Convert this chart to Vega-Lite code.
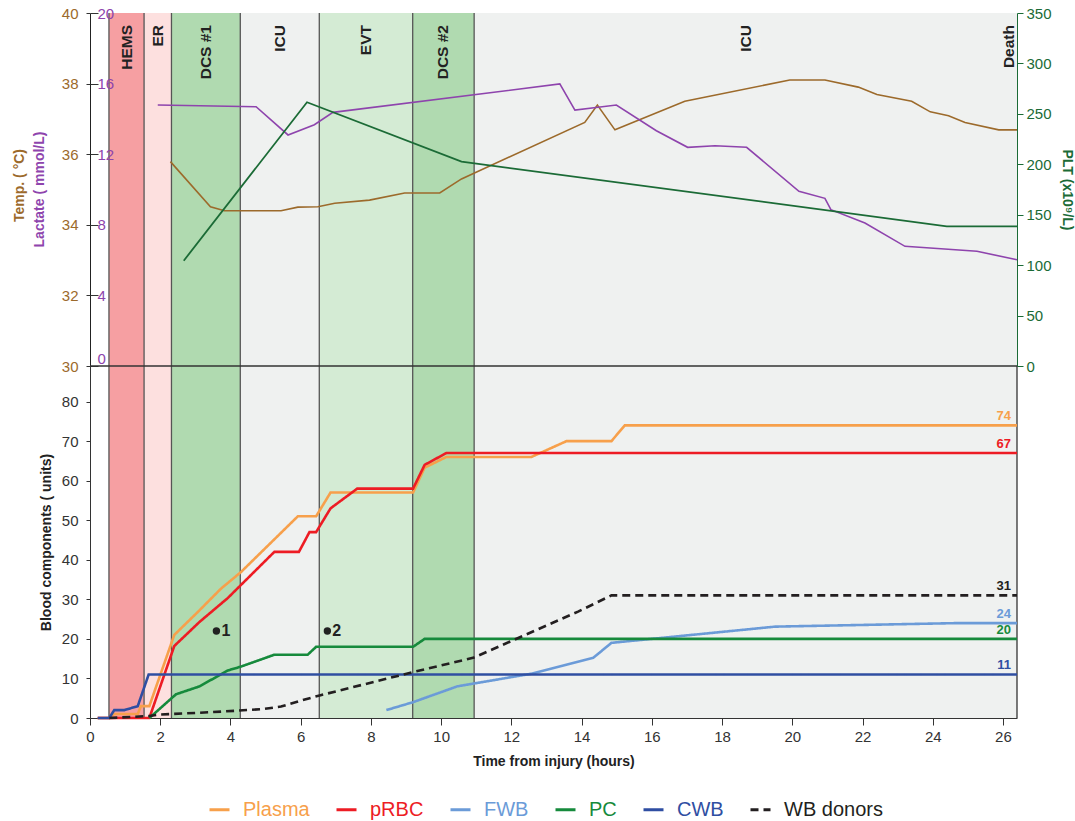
{
  "$schema": "https://vega.github.io/schema/vega-lite/v6.json",
  "padding": {"left": 12, "top": 6, "right": 5, "bottom": 0},
  "config": {
    "font": "Liberation Sans",
    "view": {"stroke": null},
    "axis": {"zindex": 1, "grid": false, "labelFontSize": 15, "labelColor": "#333", "tickColor": "#333", "domainColor": "#333", "titleFontSize": 14, "titleFontWeight": "bold", "titleColor": "#222"}
  },
  "datasets": {
    "bands": [
      {"start": 0.54, "end": 1.54, "mid": 1.04, "kind": "HEMS", "label": "HEMS"},
      {"start": 1.54, "end": 2.32, "mid": 1.93, "kind": "ER", "label": "ER"},
      {"start": 2.32, "end": 4.28, "mid": 3.30, "kind": "DCS", "label": "DCS #1"},
      {"start": 4.28, "end": 6.53, "mid": 5.40, "kind": "ICU", "label": "ICU"},
      {"start": 6.53, "end": 9.19, "mid": 7.86, "kind": "EVT", "label": "EVT"},
      {"start": 9.19, "end": 10.94, "mid": 10.06, "kind": "DCS", "label": "DCS #2"},
      {"start": 10.94, "end": 26.4, "mid": 18.67, "kind": "ICU", "label": "ICU"}
    ],
    "events": [{"t": 26.17, "label": "Death"}],
    "temp": [
      {"t": 2.29, "temp": 35.79}, {"t": 3.43, "temp": 34.51}, {"t": 3.83, "temp": 34.40}, {"t": 5.44, "temp": 34.40},
      {"t": 5.92, "temp": 34.50}, {"t": 6.49, "temp": 34.51}, {"t": 6.97, "temp": 34.61}, {"t": 7.96, "temp": 34.70},
      {"t": 8.96, "temp": 34.90}, {"t": 9.96, "temp": 34.90}, {"t": 10.58, "temp": 35.30}, {"t": 14.09, "temp": 36.90},
      {"t": 14.45, "temp": 37.39}, {"t": 14.95, "temp": 36.69}, {"t": 16.94, "temp": 37.50}, {"t": 19.93, "temp": 38.10},
      {"t": 20.93, "temp": 38.10}, {"t": 21.88, "temp": 37.90}, {"t": 22.41, "temp": 37.69}, {"t": 23.40, "temp": 37.50},
      {"t": 23.93, "temp": 37.20}, {"t": 24.45, "temp": 37.09}, {"t": 24.92, "temp": 36.90}, {"t": 25.88, "temp": 36.69},
      {"t": 26.40, "temp": 36.69}
    ],
    "lactate": [
      {"t": 1.93, "lactate": 14.79}, {"t": 4.73, "lactate": 14.69}, {"t": 5.64, "lactate": 13.09}, {"t": 6.39, "lactate": 13.67},
      {"t": 6.92, "lactate": 14.37}, {"t": 13.38, "lactate": 15.98}, {"t": 13.81, "lactate": 14.50}, {"t": 14.47, "lactate": 14.66},
      {"t": 14.99, "lactate": 14.79}, {"t": 16.13, "lactate": 13.33}, {"t": 17.02, "lactate": 12.39}, {"t": 17.80, "lactate": 12.48},
      {"t": 18.70, "lactate": 12.39}, {"t": 20.19, "lactate": 9.90}, {"t": 20.93, "lactate": 9.50}, {"t": 21.10, "lactate": 8.86},
      {"t": 22.07, "lactate": 8.10}, {"t": 23.21, "lactate": 6.78}, {"t": 25.26, "lactate": 6.50}, {"t": 26.40, "lactate": 6.02}
    ],
    "plt": [
      {"t": 2.67, "plt": 104.4}, {"t": 6.18, "plt": 261.5}, {"t": 10.58, "plt": 202.6}, {"t": 24.40, "plt": 138.5}, {"t": 26.40, "plt": 138.5}
    ],
    "blood": [
      {"series": "Plasma", "t": 0.22, "v": 0}, {"series": "Plasma", "t": 0.55, "v": 0}, {"series": "Plasma", "t": 0.69, "v": 1},
      {"series": "Plasma", "t": 1.36, "v": 1}, {"series": "Plasma", "t": 1.45, "v": 3}, {"series": "Plasma", "t": 1.69, "v": 3},
      {"series": "Plasma", "t": 2.40, "v": 21}, {"series": "Plasma", "t": 3.07, "v": 26.8}, {"series": "Plasma", "t": 3.73, "v": 32.7},
      {"series": "Plasma", "t": 4.30, "v": 36.9}, {"series": "Plasma", "t": 5.92, "v": 51}, {"series": "Plasma", "t": 6.44, "v": 51},
      {"series": "Plasma", "t": 6.85, "v": 57}, {"series": "Plasma", "t": 9.20, "v": 57}, {"series": "Plasma", "t": 9.53, "v": 63.3},
      {"series": "Plasma", "t": 10.15, "v": 66}, {"series": "Plasma", "t": 12.57, "v": 66}, {"series": "Plasma", "t": 13.57, "v": 70},
      {"series": "Plasma", "t": 14.85, "v": 70}, {"series": "Plasma", "t": 15.23, "v": 74}, {"series": "Plasma", "t": 26.4, "v": 74},

      {"series": "pRBC", "t": 0.22, "v": 0}, {"series": "pRBC", "t": 1.69, "v": 0}, {"series": "pRBC", "t": 2.40, "v": 18.2},
      {"series": "pRBC", "t": 3.12, "v": 24.3}, {"series": "pRBC", "t": 3.92, "v": 30.3}, {"series": "pRBC", "t": 5.25, "v": 42},
      {"series": "pRBC", "t": 5.95, "v": 42}, {"series": "pRBC", "t": 6.25, "v": 47}, {"series": "pRBC", "t": 6.44, "v": 47},
      {"series": "pRBC", "t": 6.85, "v": 53}, {"series": "pRBC", "t": 7.61, "v": 58}, {"series": "pRBC", "t": 9.20, "v": 58},
      {"series": "pRBC", "t": 9.53, "v": 64}, {"series": "pRBC", "t": 10.15, "v": 67}, {"series": "pRBC", "t": 26.4, "v": 67},

      {"series": "FWB", "t": 8.44, "v": 2}, {"series": "FWB", "t": 9.20, "v": 4}, {"series": "FWB", "t": 10.46, "v": 8},
      {"series": "FWB", "t": 12.57, "v": 11.2}, {"series": "FWB", "t": 14.33, "v": 15.2}, {"series": "FWB", "t": 14.85, "v": 19},
      {"series": "FWB", "t": 15.99, "v": 20}, {"series": "FWB", "t": 19.51, "v": 23.1}, {"series": "FWB", "t": 24.73, "v": 24},
      {"series": "FWB", "t": 26.4, "v": 24},

      {"series": "PC", "t": 1.69, "v": 0}, {"series": "PC", "t": 2.45, "v": 6}, {"series": "PC", "t": 3.12, "v": 8},
      {"series": "PC", "t": 3.92, "v": 12}, {"series": "PC", "t": 4.30, "v": 13}, {"series": "PC", "t": 5.25, "v": 16},
      {"series": "PC", "t": 6.20, "v": 16}, {"series": "PC", "t": 6.44, "v": 18}, {"series": "PC", "t": 9.20, "v": 18},
      {"series": "PC", "t": 9.53, "v": 20}, {"series": "PC", "t": 26.4, "v": 20},

      {"series": "CWB", "t": 0.22, "v": 0}, {"series": "CWB", "t": 0.55, "v": 0}, {"series": "CWB", "t": 0.69, "v": 2},
      {"series": "CWB", "t": 0.98, "v": 2}, {"series": "CWB", "t": 1.36, "v": 3}, {"series": "CWB", "t": 1.67, "v": 11},
      {"series": "CWB", "t": 26.4, "v": 11},

      {"series": "WB donors", "t": 0.55, "v": 0}, {"series": "WB donors", "t": 1.69, "v": 0.5}, {"series": "WB donors", "t": 2.02, "v": 0.9},
      {"series": "WB donors", "t": 3.07, "v": 1.3}, {"series": "WB donors", "t": 4.11, "v": 1.8}, {"series": "WB donors", "t": 4.97, "v": 2.3},
      {"series": "WB donors", "t": 5.44, "v": 2.9}, {"series": "WB donors", "t": 6.0, "v": 4.4}, {"series": "WB donors", "t": 6.54, "v": 5.7},
      {"series": "WB donors", "t": 9.20, "v": 11.6}, {"series": "WB donors", "t": 10.91, "v": 15.2}, {"series": "WB donors", "t": 13.9, "v": 26.9},
      {"series": "WB donors", "t": 14.85, "v": 31}, {"series": "WB donors", "t": 26.4, "v": 31}
    ],
    "ends": [
      {"series": "Plasma", "t": 26.4, "v": 74, "label": "74"},
      {"series": "pRBC", "t": 26.4, "v": 67, "label": "67"},
      {"series": "WB donors", "t": 26.4, "v": 31, "label": "31"},
      {"series": "FWB", "t": 26.4, "v": 24, "label": "24"},
      {"series": "PC", "t": 26.4, "v": 20, "label": "20"},
      {"series": "CWB", "t": 26.4, "v": 11, "label": "11"}
    ],
    "notes": [
      {"t": 3.6, "v": 22, "label": "1"},
      {"t": 6.76, "v": 22, "label": "2"}
    ]
  },
  "spacing": 0,
  "bounds": "flush",
  "vconcat": [
    {
      "width": 927,
      "height": 353,
      "layer": [
        {
          "layer": [
            {
              "data": {"name": "bands"},
              "mark": {"type": "rect"},
              "encoding": {
                "x": {"field": "start", "type": "quantitative", "scale": {"domain": [0, 26.4], "nice": false, "zero": false}, "axis": null},
                "x2": {"field": "end"},
                "fill": {"field": "kind", "type": "nominal", "scale": {"domain": ["HEMS", "ER", "DCS", "ICU", "EVT"], "range": ["#f69fa2", "#fde0df", "#b0dab0", "#eff1f0", "#d4ebd4"]}, "legend": null}
              }
            },
            {
              "data": {"name": "bands"},
              "mark": {"type": "rule", "color": "#555", "strokeWidth": 1.3},
              "encoding": {"x": {"field": "start", "type": "quantitative"}}
            },
            {
              "data": {"name": "bands"},
              "mark": {"type": "text", "angle": 270, "align": "right", "baseline": "middle", "fontWeight": "bold", "fontSize": 15.5, "color": "#222"},
              "encoding": {
                "x": {"field": "mid", "type": "quantitative"},
                "y": {"datum": 39.66, "type": "quantitative"},
                "text": {"field": "label"}
              }
            },
            {
              "data": {"name": "events"},
              "mark": {"type": "text", "angle": 270, "align": "right", "baseline": "middle", "fontWeight": "bold", "fontSize": 15.5, "color": "#222"},
              "encoding": {
                "x": {"field": "t", "type": "quantitative"},
                "y": {"datum": 39.66, "type": "quantitative"},
                "text": {"field": "label"}
              }
            },
            {
              "data": {"name": "temp"},
              "mark": {"type": "line", "color": "#9c6a2b", "strokeWidth": 1.6},
              "encoding": {
                "x": {"field": "t", "type": "quantitative"},
                "y": {"field": "temp", "type": "quantitative", "scale": {"domain": [30, 40], "nice": false, "zero": false},
                  "axis": {"orient": "left", "values": [30, 32, 34, 36, 38, 40], "tickSize": 4, "labelPadding": 8, "labelColor": "#9c6a2b", "domainColor": "#222", "title": "Temp. ( °C)", "titleColor": "#9c6a2b", "titleX": -64, "titleY": 172}}
              }
            }
          ]
        },
        {
          "data": {"name": "lactate"},
          "mark": {"type": "line", "color": "#8e44ad", "strokeWidth": 1.6},
          "encoding": {
            "x": {"field": "t", "type": "quantitative"},
            "y": {"field": "lactate", "type": "quantitative", "scale": {"domain": [0, 20], "nice": false},
              "axis": {"orient": "left", "zindex": 2, "values": [0, 4, 8, 12, 16, 20], "domain": false, "tickSize": -8, "labelPadding": 1, "labelAlign": "left", "labelBaseline": {"condition": {"test": "datum.value === 0", "value": "bottom"}, "value": "middle"}, "labelColor": "#8e44ad", "title": "Lactate ( mmol/L)", "titleColor": "#8e44ad", "titleX": -44, "titleY": 176}}
          }
        },
        {
          "data": {"name": "plt"},
          "mark": {"type": "line", "color": "#1b6b36", "strokeWidth": 1.8},
          "encoding": {
            "x": {"field": "t", "type": "quantitative"},
            "y": {"field": "plt", "type": "quantitative", "scale": {"domain": [0, 350], "nice": false},
              "axis": {"orient": "right", "values": [0, 50, 100, 150, 200, 250, 300, 350], "tickSize": 6, "labelPadding": 3, "labelColor": "#1b6b36", "tickColor": "#1b6b36", "domainColor": "#1b6b36", "title": "PLT (x10⁹/L)", "titleColor": "#1b6b36", "titlePadding": 8}}
          }
        }
      ],
      "resolve": {"scale": {"y": "independent"}}
    },
    {
      "width": 927,
      "height": 352,
      "layer": [
        {
          "data": {"name": "bands"},
          "mark": {"type": "rect"},
          "encoding": {
            "x": {"field": "start", "type": "quantitative", "scale": {"domain": [0, 26.4], "nice": false, "zero": false}},
            "x2": {"field": "end"},
            "fill": {"field": "kind", "type": "nominal", "scale": {"domain": ["HEMS", "ER", "DCS", "ICU", "EVT"], "range": ["#f69fa2", "#fde0df", "#b0dab0", "#eff1f0", "#d4ebd4"]}, "legend": null}
          }
        },
        {
          "data": {"name": "bands"},
          "mark": {"type": "rule", "color": "#555", "strokeWidth": 1.3},
          "encoding": {"x": {"field": "start", "type": "quantitative"}}
        },
        {
          "data": {"values": [{}]},
          "mark": {"type": "rule", "color": "#333", "strokeWidth": 1.3},
          "encoding": {"x": {"datum": 26.4, "type": "quantitative"}}
        },
        {
          "data": {"values": [{}]},
          "mark": {"type": "rule", "color": "#333", "strokeWidth": 1.4},
          "encoding": {"y": {"datum": 89, "type": "quantitative"}}
        },
        {
          "data": {"name": "blood"},
          "mark": {"type": "line", "strokeWidth": 2.6},
          "encoding": {
            "x": {"field": "t", "type": "quantitative",
              "axis": {"values": [0,1,2,3,4,5,6,7,8,9,10,11,12,13,14,15,16,17,18,19,20,21,22,23,24,25,26], "labelExpr": "datum.value % 2 === 0 ? datum.label : ''", "tickSize": {"condition": {"test": "datum.value % 2 === 0", "value": 7}, "value": 4}, "labelPadding": 4, "labelFlush": false, "title": "Time from injury (hours)", "titlePadding": 10}},
            "y": {"field": "v", "type": "quantitative", "scale": {"domain": [0, 89], "nice": false},
              "axis": {"values": [0, 10, 20, 30, 40, 50, 60, 70, 80], "tickSize": 4, "labelPadding": 8, "title": "Blood components ( units)", "titlePadding": 8}},
            "stroke": {"field": "series", "type": "nominal",
              "scale": {"domain": ["Plasma", "pRBC", "FWB", "PC", "CWB", "WB donors"], "range": ["#f7a04b", "#ed1c24", "#6b9bd8", "#168a3c", "#2f4ea2", "#231f20"]},
              "legend": {"orient": "none", "legendX": 118, "legendY": 785, "direction": "horizontal", "title": null, "symbolType": "stroke", "symbolStrokeWidth": 3, "symbolSize": 400, "labelFontSize": 20, "labelOffset": 12, "columnPadding": 20, "labelLimit": 300, "encode": {"labels": {"update": {"fill": {"scale": "stroke", "field": "value"}}}}}},
            "strokeDash": {"field": "series", "type": "nominal",
              "scale": {"domain": ["Plasma", "pRBC", "FWB", "PC", "CWB", "WB donors"], "range": [[1, 0], [1, 0], [1, 0], [1, 0], [1, 0], [8, 5]]},
              "legend": {"orient": "none", "legendX": 118, "legendY": 785, "direction": "horizontal", "title": null, "symbolType": "stroke", "symbolStrokeWidth": 3, "symbolSize": 400, "labelFontSize": 20, "labelOffset": 12, "columnPadding": 20, "labelLimit": 300, "encode": {"labels": {"update": {"fill": {"scale": "stroke", "field": "value"}}}}}}
          }
        },
        {
          "data": {"name": "ends"},
          "mark": {"type": "text", "align": "right", "baseline": "middle", "dx": -6, "dy": -9, "fontWeight": "bold", "fontSize": 13},
          "encoding": {
            "x": {"field": "t", "type": "quantitative"},
            "y": {"field": "v", "type": "quantitative"},
            "text": {"field": "label"},
            "color": {"field": "series", "type": "nominal",
              "scale": {"domain": ["Plasma", "pRBC", "FWB", "PC", "CWB", "WB donors"], "range": ["#f7a04b", "#ed1c24", "#6b9bd8", "#168a3c", "#2f4ea2", "#231f20"]}, "legend": null}
          }
        },
        {
          "data": {"name": "notes"},
          "mark": {"type": "point", "filled": true, "color": "#222", "opacity": 1, "size": 55},
          "encoding": {
            "x": {"field": "t", "type": "quantitative"},
            "y": {"field": "v", "type": "quantitative"}
          }
        },
        {
          "data": {"name": "notes"},
          "mark": {"type": "text", "align": "left", "baseline": "middle", "dx": 5, "fontWeight": "bold", "fontSize": 16, "color": "#222"},
          "encoding": {
            "x": {"field": "t", "type": "quantitative"},
            "y": {"field": "v", "type": "quantitative"},
            "text": {"field": "label"}
          }
        }
      ]
    }
  ]
}
